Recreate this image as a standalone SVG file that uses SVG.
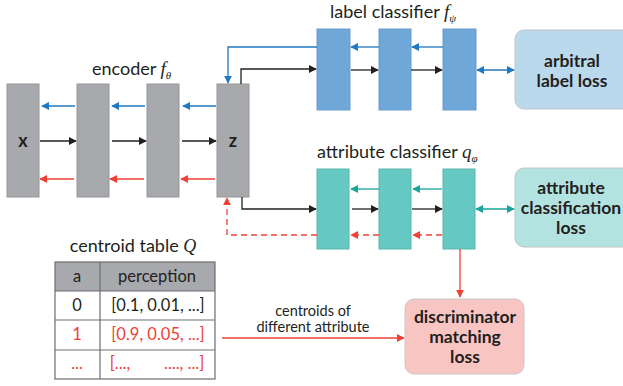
<svg xmlns="http://www.w3.org/2000/svg" width="623" height="386" viewBox="0 0 623 386">
<defs>
<style>
text{font-family:Lato,"Liberation Sans",sans-serif;fill:#231f20}
.t{font-size:18px}
.b{font-size:17.5px;font-weight:bold;text-anchor:middle}
.enc{fill:#a7a9ac;stroke:#939598;stroke-width:1}
.lab{fill:#6fa8d8;stroke:#6b9cc8;stroke-width:1}
.att{fill:#66c9c3;stroke:#5bb5ae;stroke-width:1}
.k{stroke:#231f20;stroke-width:1.3;fill:none}
.bl{stroke:#1f78c1;stroke-width:1.3;fill:none}
.r{stroke:#ef4136;stroke-width:1.3;fill:none}
.tl{stroke:#19a59a;stroke-width:1.3;fill:none}
.d{stroke-dasharray:6 4}
.cell{font-size:16.5px;text-anchor:middle}
.red{fill:#ef4136}
.m{font-family:"Liberation Serif",serif;font-style:italic}
</style>
<marker id="mk" viewBox="0 0 10 10" refX="9" refY="5" markerWidth="8" markerHeight="8" markerUnits="userSpaceOnUse" orient="auto-start-reverse"><path d="M0,0L10,5L0,10z" fill="#231f20"/></marker>
<marker id="mb" viewBox="0 0 10 10" refX="9" refY="5" markerWidth="8" markerHeight="8" markerUnits="userSpaceOnUse" orient="auto-start-reverse"><path d="M0,0L10,5L0,10z" fill="#1f78c1"/></marker>
<marker id="mr" viewBox="0 0 10 10" refX="9" refY="5" markerWidth="8" markerHeight="8" markerUnits="userSpaceOnUse" orient="auto-start-reverse"><path d="M0,0L10,5L0,10z" fill="#ef4136"/></marker>
<marker id="mt" viewBox="0 0 10 10" refX="9" refY="5" markerWidth="8" markerHeight="8" markerUnits="userSpaceOnUse" orient="auto-start-reverse"><path d="M0,0L10,5L0,10z" fill="#19a59a"/></marker>
</defs>
<rect width="623" height="386" fill="#fff"/>

<!-- encoder -->
<g id="encoder">
<text class="t" x="92" y="75">encoder <tspan class="m" font-size="19">f</tspan><tspan class="m" font-size="11" dy="4">θ</tspan></text>
<g id="enc-x"><rect class="enc" x="7" y="84" width="32" height="113"/><text x="23" y="147" font-size="18" font-weight="bold" text-anchor="middle">x</text></g>
<g id="enc-h1"><rect class="enc" x="77" y="84" width="32" height="113"/></g>
<g id="enc-h2"><rect class="enc" x="147" y="84" width="32" height="113"/></g>
<g id="enc-z"><rect class="enc" x="217" y="84" width="32" height="113"/><text x="233" y="147" font-size="18" font-weight="bold" text-anchor="middle">z</text></g>
</g>

<!-- label classifier -->
<g id="label-classifier">
<text class="t" x="330" y="18" font-size="18.5">label classifier <tspan class="m" font-size="19">f</tspan><tspan class="m" font-size="11" dy="4">ψ</tspan></text>
<rect class="lab" x="317" y="29" width="33" height="81"/>
<rect class="lab" x="379" y="29" width="32" height="81"/>
<rect class="lab" x="443" y="29" width="33" height="81"/>
</g>
<g id="label-loss">
<rect x="515" y="30" width="120" height="79" rx="9" fill="#bbd9ed" stroke="#c4c4c4" stroke-width="1"/>
<text class="b" x="572" y="67">arbitral</text>
<text class="b" x="572" y="87">label loss</text>
</g>

<!-- attribute classifier -->
<g id="attribute-classifier">
<text class="t" x="317" y="158">attribute classifier <tspan class="m" font-size="19">q</tspan><tspan class="m" font-size="11" dy="4">φ</tspan></text>
<rect class="att" x="317" y="169" width="32" height="80"/>
<rect class="att" x="379" y="169" width="32" height="80"/>
<rect class="att" x="443" y="169" width="32" height="80"/>
</g>
<g id="attribute-loss">
<rect x="515" y="168" width="120" height="79" rx="9" fill="#b3e3e0" stroke="#c4c4c4" stroke-width="1"/>
<text class="b" x="571" y="194">attribute</text>
<text class="b" x="571" y="214">classification</text>
<text class="b" x="571" y="234">loss</text>
</g>

<!-- discriminator -->
<g id="discriminator-loss">
<rect x="405" y="299" width="119" height="75" rx="9" fill="#f8c5c3" stroke="#c8c8c8" stroke-width="1"/>
<text class="b" x="465" y="323">discriminator</text>
<text class="b" x="465" y="343">matching</text>
<text class="b" x="465" y="363">loss</text>
</g>

<!-- centroid table -->
<g id="centroid-table">
<text class="t" x="133" y="252" font-size="17.5" text-anchor="middle">centroid table <tspan class="m" font-size="18">Q</tspan></text>
<rect x="55" y="262" width="160" height="29" fill="#a7a9ac"/>
<rect x="55" y="262" width="160" height="117" fill="none" stroke="#6d6e71" stroke-width="1.2"/>
<path d="M55 291H215M55 320H215M55 350H215M100 262V379" stroke="#6d6e71" stroke-width="1.2" fill="none"/>
<text class="cell" x="77" y="282">a</text>
<text class="cell" x="157" y="282" font-size="18">perception</text>
<text class="cell" x="77" y="311">0</text>
<text class="cell" x="158" y="311">[0.1, 0.01, ...]</text>
<text class="cell red" x="77" y="340">1</text>
<text class="cell red" x="158" y="340">[0.9, 0.05, ...]</text>
<text class="cell red" x="77" y="369">...</text>
<text class="cell red" x="157" y="369" xml:space="preserve">[...,        ...., ...]</text>
</g>

<!-- connectors -->
<g id="connectors">
<!-- encoder forward -->
<path class="k" d="M40 141H76" marker-end="url(#mk)"/>
<path class="k" d="M112 141H146" marker-end="url(#mk)"/>
<path class="k" d="M182 141H216" marker-end="url(#mk)"/>
<!-- encoder backward blue -->
<path class="bl" d="M75 106H42" marker-end="url(#mb)"/>
<path class="bl" d="M145 106H112" marker-end="url(#mb)"/>
<path class="bl" d="M216 106H183" marker-end="url(#mb)"/>
<!-- encoder backward red -->
<path class="r" d="M74 179H40" marker-end="url(#mr)"/>
<path class="r" d="M144 179H110" marker-end="url(#mr)"/>
<path class="r" d="M215 179H181" marker-end="url(#mr)"/>
<!-- z to label classifier -->
<path class="k" d="M241 84V69H316" marker-end="url(#mk)"/>
<path class="bl" d="M317 47H228V83" marker-end="url(#mb)"/>
<!-- label classifier -->
<path class="k" d="M351 70H378" marker-end="url(#mk)"/>
<path class="k" d="M411 70H442" marker-end="url(#mk)"/>
<path class="bl" d="M379 47H351" marker-end="url(#mb)"/>
<path class="bl" d="M443 47H412" marker-end="url(#mb)"/>
<path class="bl" d="M477 70H514" marker-start="url(#mb)" marker-end="url(#mb)"/>
<!-- z to attribute classifier -->
<path class="k" d="M242 197V209H316" marker-end="url(#mk)"/>
<path class="r d" d="M317 235H227V198" marker-end="url(#mr)"/>
<!-- attribute classifier -->
<path class="k" d="M352 209H378" marker-end="url(#mk)"/>
<path class="k" d="M412 209H442" marker-end="url(#mk)"/>
<path class="tl" d="M379 189H351" marker-end="url(#mt)"/>
<path class="tl" d="M442 189H413" marker-end="url(#mt)"/>
<path class="r d" d="M379 235H351" marker-end="url(#mr)"/>
<path class="r d" d="M442 235H413" marker-end="url(#mr)"/>
<path class="tl" d="M476 209H514" marker-start="url(#mt)" marker-end="url(#mt)"/>
<!-- to discriminator -->
<path class="r" d="M460 249V297" marker-end="url(#mr)"/>
<path class="r" d="M222 338H404" marker-end="url(#mr)"/>
<text x="313" y="316" font-size="14.5" text-anchor="middle">centroids of</text>
<text x="313" y="332" font-size="14.5" text-anchor="middle">different attribute</text>
</g>
</svg>
